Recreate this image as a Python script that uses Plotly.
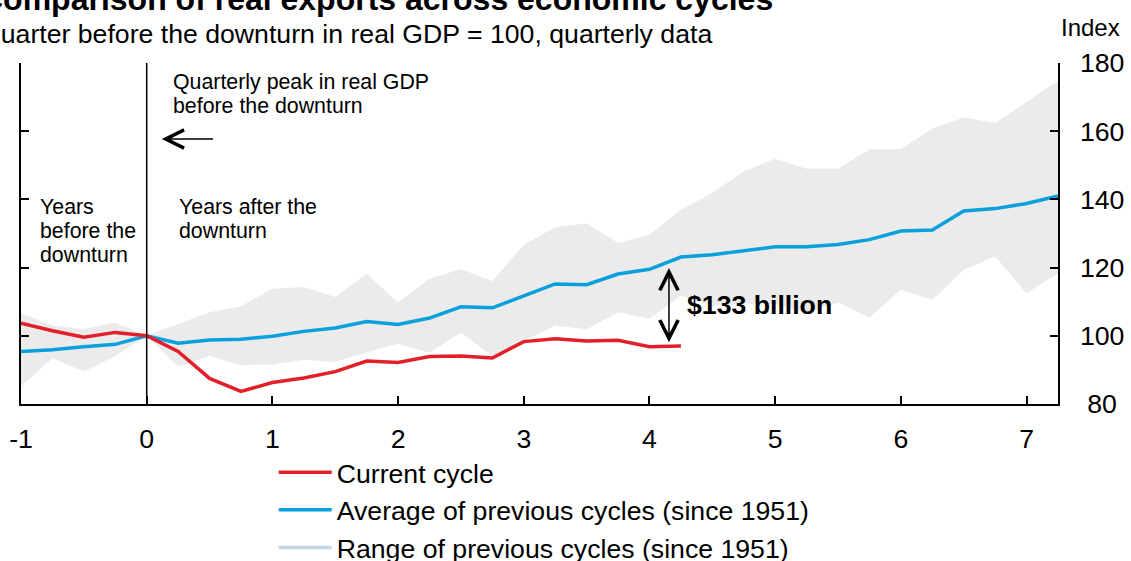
import plotly.graph_objects as go

# %%
# Data (index, quarter before downturn = 100)
quarters = [-1, -0.75, -0.5, -0.25, 0, 0.25, 0.5, 0.75, 1, 1.25, 1.5, 1.75,
            2, 2.25, 2.5, 2.75, 3, 3.25, 3.5, 3.75, 4, 4.25, 4.5, 4.75,
            5, 5.25, 5.5, 5.75, 6, 6.25, 6.5, 6.75, 7, 7.25]

range_upper = [106.7, 103.0, 102.0, 103.9, 100.0, 103.5, 106.9, 108.7, 113.8,
               114.3, 111.4, 118.2, 109.8, 116.7, 119.6, 116.0, 126.7, 131.8,
               132.9, 127.2, 129.6, 137.0, 141.9, 148.2, 151.9, 149.0, 149.0,
               154.7, 154.7, 160.8, 164.0, 162.4, 168.6, 174.8]

range_lower = [85.2, 93.4, 89.5, 94.1, 100.0, 90.9, 94.1, 91.4, 91.6, 93.0,
               92.4, 95.2, 97.7, 95.0, 101.0, 94.0, 98.4, 103.0, 101.9, 106.9,
               105.0, 111.8, 108.8, 109.5, 109.3, 106.7, 109.8, 105.3, 113.6,
               110.5, 119.4, 123.3, 112.5, 118.3]

average_prev = [95.4, 95.9, 96.8, 97.5, 100.0, 97.8, 98.8, 99.0, 99.9, 101.3,
                102.3, 104.2, 103.3, 105.2, 108.5, 108.2, 111.7, 115.2, 115.0,
                118.1, 119.5, 123.1, 123.8, 125.0, 126.1, 126.1, 126.8, 128.2,
                130.7, 131.0, 136.6, 137.3, 138.8, 141.0]

current_quarters = quarters[:22]
current_cycle = [103.7, 101.5, 99.6, 101.0, 100.0, 95.4, 87.5, 83.7, 86.3,
                 87.6, 89.5, 92.6, 92.2, 93.9, 94.1, 93.5, 98.3, 99.1, 98.5,
                 98.7, 96.8, 97.0]

year_ticks = [-1, 0, 1, 2, 3, 4, 5, 6, 7]
year_labels = ["-1", "0", "1", "2", "3", "4", "5", "6", "7"]
index_ticks = [80, 100, 120, 140, 160, 180]
index_labels = ["80", "100", "120", "140", "160", "180"]

RED = "#e3202a"
BLUE = "#0aa0dc"
BAND = "#ebebeb"
BAND_LEGEND = "#c5d5ea"
FONT = "Liberation Sans, Arial, sans-serif"
BIG = 26.67   # 20pt
SMALL = 21.33  # 16pt

# %%
fig = go.Figure()

fig.add_trace(go.Scatter(x=quarters, y=range_lower, mode="lines",
                         line=dict(width=0), showlegend=False, hoverinfo="skip"))
fig.add_trace(go.Scatter(x=quarters, y=range_upper, mode="lines", fill="tonexty",
                         fillcolor=BAND, line=dict(width=0), showlegend=False,
                         hoverinfo="skip"))
fig.add_trace(go.Scatter(x=quarters, y=average_prev, mode="lines",
                         name="Average of previous cycles (since 1951)",
                         line=dict(color=BLUE, width=3.5), legendrank=2))
fig.add_trace(go.Scatter(x=current_quarters, y=current_cycle, mode="lines",
                         name="Current cycle",
                         line=dict(color=RED, width=3.5), legendrank=1))
fig.add_trace(go.Scatter(x=[None], y=[None], mode="lines",
                         name="Range of previous cycles (since 1951)",
                         line=dict(color=BAND_LEGEND, width=3.5), legendrank=3))

# vertical marker at the GDP peak
fig.add_shape(type="line", x0=0, x1=0, y0=80, y1=180, xref="x", yref="y",
              line=dict(color="black", width=1.5))


# text labels
def label(x, y, text, size=SMALL, bold=False):
    fig.add_annotation(x=x, y=y, xref="x", yref="y",
                       text=f"<b>{text}</b>" if bold else text, showarrow=False,
                       xanchor="left", yanchor="middle",
                       font=dict(size=size, color="black", family=FONT))


label(0.19, 174.4, "Quarterly peak in real GDP")
label(0.19, 167.4, "before the downturn")
label(0.24, 137.8, "Years after the")
label(0.24, 130.8, "downturn")
label(-0.867, 137.8, "Years")
label(-0.867, 130.8, "before the")
label(-0.867, 123.8, "downturn")
label(4.28, 109.1, "$133 billion", size=BIG, bold=True)

# arrows
fig.add_annotation(x=0.12, y=157.7, ax=0.54, ay=157.7, xref="x", yref="y",
                   axref="x", ayref="y", text="", showarrow=True,
                   arrowhead=5, arrowsize=2.4, arrowwidth=1.5, arrowcolor="black")
fig.add_annotation(x=4.155, y=98.1, ax=4.155, ay=120.3, xref="x", yref="y",
                   axref="x", ayref="y", text="", showarrow=True,
                   arrowside="end+start", arrowhead=5, startarrowhead=5,
                   arrowsize=2.4, startarrowsize=2.4, arrowwidth=1.5,
                   arrowcolor="black")

# title block (partly cut off, as in the reference)
fig.add_annotation(x=-0.0415, y=1.187, xref="paper", yref="paper",
                   text="<b>Comparison of real exports across economic cycles</b>",
                   showarrow=False, xanchor="left", yanchor="middle",
                   font=dict(size=32, color="black", family=FONT))
fig.add_annotation(x=-0.0415, y=1.0858, xref="paper", yref="paper",
                   text="Quarter before the downturn in real GDP = 100, quarterly data",
                   showarrow=False, xanchor="left", yanchor="middle",
                   font=dict(size=BIG, color="black", family=FONT))
fig.add_annotation(x=1.062, y=1.105, xref="paper", yref="paper", text="Index",
                   showarrow=False, xanchor="right", yanchor="middle",
                   font=dict(size=24, color="black", family=FONT))

# right-hand labels sit a little away from the axis, roughly centred
pad = "\u00a0" * 2
index_text = [pad + ("\u00a0" if len(t) < 3 else "") + t for t in index_labels]

fig.update_layout(
    width=1131,
    height=561,
    margin=dict(l=21, r=73, t=63, b=157, autoexpand=False),
    paper_bgcolor="white",
    plot_bgcolor="white",
    font=dict(family=FONT, size=BIG, color="black"),
    showlegend=True,
    legend=dict(x=0.2437, y=-0.13, xanchor="left", yanchor="top",
                traceorder="normal", bgcolor="rgba(0,0,0,0)",
                font=dict(size=BIG), itemwidth=53),
    xaxis=dict(range=[-1, 7.25], tickvals=year_ticks, ticktext=year_labels,
               ticks="inside", ticklen=8, tickwidth=1.5, tickcolor="black",
               showline=True, linecolor="black", linewidth=1.5,
               showgrid=False, zeroline=False, automargin=False,
               ticklabelstandoff=10),
    yaxis=dict(range=[80, 180], tickvals=index_ticks, ticktext=index_text,
               side="right", ticks="inside",
               ticklen=8, tickwidth=1.5, tickcolor="black", mirror="ticks",
               showline=True, linecolor="black", linewidth=1.5,
               showgrid=False, zeroline=False, automargin=False),
)

# the page body has an 8px default margin; drop it so the figure sits at 0,0
fig.write_html("out.html", config={"displayModeBar": False},
               post_script="document.body.style.margin='0';")
